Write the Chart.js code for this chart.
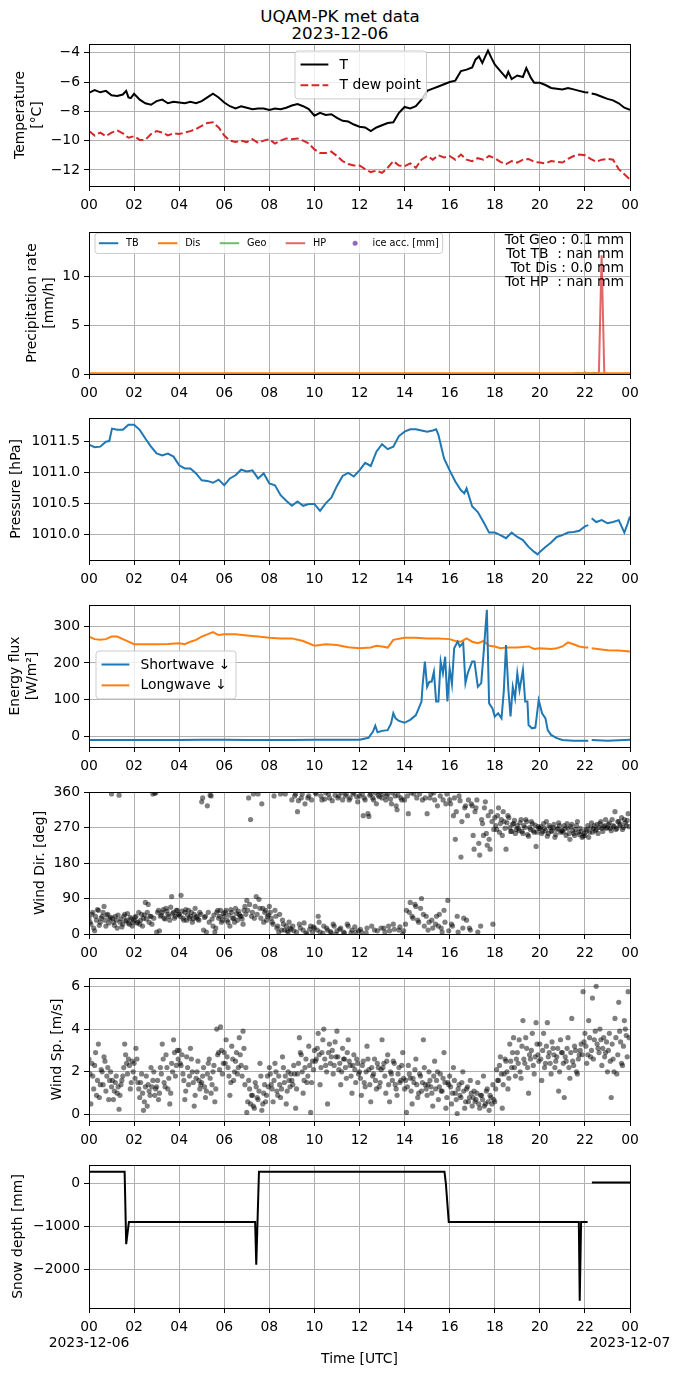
<!DOCTYPE html>
<html>
<head>
<meta charset="utf-8">
<script src="https://cdn.jsdelivr.net/npm/chart.js@4.4.1/dist/chart.umd.min.js"></script>
<style>
  body { margin: 0; background: #fff; width: 680px; height: 1377px; position: relative; overflow: hidden; font-family: "DejaVu Sans", sans-serif; }
  canvas { position: absolute; left: 0; }
  #title { position: absolute; left: 0; top: 8px; width: 680px; text-align: center; font-size: 16.7px; line-height: 17px; color: #000; }
</style>
</head>
<body>
<div id="title">UQAM-PK met data<br>2023-12-06</div>
<canvas id="c1"></canvas>
<canvas id="c2"></canvas>
<canvas id="c3"></canvas>
<canvas id="c4"></canvas>
<canvas id="c5"></canvas>
<canvas id="c6"></canvas>
<canvas id="c7"></canvas>
<script>
// x ticks, every 2 h
const hourTicks = [0, 2, 4, 6, 8, 10, 12, 14, 16, 18, 20, 22, 24];

// temperature
const tHours = [0,0.25,0.5,0.75,1, 1.25,1.5,1.65,1.75,1.85, 2,2.25,2.5,2.75,3, 3.25,3.5,3.75,4,4.25,
  4.5,4.75,5,5.25,5.5, 5.75,6,6.25,6.5,6.75, 7,7.25,7.5,7.75,8, 8.25,8.5,8.75,9,9.25,
  9.5,9.75,10,10.25,10.5, 10.75,11,11.25,11.5,11.75, 12,12.25,12.5,12.75,13, 13.25,13.5,13.75,14,14.25,
  14.5,14.75,15,15.25,15.5, 15.75,16,16.25,16.5,16.75, 17,17.15,17.3,17.45,17.55, 17.7,17.85,18,18.25,18.5,
  18.6,18.75,19,19.25,19.4, 19.6,19.75,20,20.25,20.5, 20.75,21,21.25,21.5,21.75, 22,22.15,22.22,22.3,22.5,
  22.75,23,23.25,23.5,23.75, 24];
const tVals = [-6.73,-6.55,-6.7,-6.6,-6.9, -6.95,-6.85,-6.6,-7.05,-7.1, -6.8,-7.2,-7.45,-7.55,-7.3, -7.2,-7.45,-7.35,-7.4,-7.45,
  -7.35,-7.45,-7.3,-7.05,-6.8, -7.05,-7.4,-7.65,-7.8,-7.65, -7.75,-7.85,-7.8,-7.8,-7.9, -7.8,-7.85,-7.75,-7.6,-7.5,
  -7.65,-7.85,-8.3,-8.1,-8.25, -8.2,-8.45,-8.65,-8.7,-8.9, -9.05,-9.1,-9.35,-9.1,-8.95, -8.8,-8.75,-8.1,-7.7,-7.8,
  -7.65,-7.2,-6.6,-6.45,-6.3, -6.15,-6.0,-5.9,-5.25,-5.15, -5.0,-4.45,-4.25,-4.7,-4.35, -3.85,-4.35,-4.8,-5.25,-5.7,
  -5.3,-5.8,-5.55,-5.65,-5.05, -5.7,-6.05,-6.05,-6.2,-6.4, -6.45,-6.5,-6.4,-6.5,-6.6, -6.7,-6.72,null,-6.78,-6.85,
  -7.0,-7.15,-7.25,-7.45,-7.75, -7.9];
// dew point, every 15 min
const tdVals = [-9.35,-9.65,-9.45,-9.7, -9.45,-9.3,-9.5,-9.8, -9.7,-9.95,-9.95,-9.55, -9.35,-9.45,-9.65,-9.5,
  -9.55,-9.45,-9.35,-9.2, -9.0,-8.8,-8.75,-9.1, -9.65,-10.0,-10.1,-10.0, -10.1,-9.9,-10.15,-10.0,
  -9.9,-10.2,-10.0,-9.85, -9.9,-9.85,-10.0,-10.2, -10.6,-10.85,-10.85,-10.75, -11.05,-11.4,-11.6,-11.7,
  -11.7,-11.95,-12.15,-12.05, -12.2,-11.85,-11.4,-11.7, -11.75,-11.55,-11.85,-11.3, -11.05,-11.3,-11.0,-11.15,
  -11.05,-11.3,-10.95,-11.3, -11.4,-11.2,-11.3,-11.05, -11.2,-11.45,-11.6,-11.4, -11.5,-11.3,-11.25,-11.45,
  -11.5,-11.55,-11.4,-11.45, -11.5,-11.25,-11.05,-10.95, -11.0,-11.25,-11.45,-11.3, -11.25,-11.3,-11.95,-12.3, -12.65];

// precipitation
const disHours = [0, 6, 12, 18, 24];
const disVals = [0.08, 0.08, 0.08, 0.08, 0.08];
const geoHours = [21.5, 21.7, 21.85, 22.0, 22.2, 22.4, 22.6];
const geoVals = [0.05, 0.1, 0.05, 0.15, 0.05, 0.12, 0.05];
const hpHours = [22.4, 22.62, 22.74, 22.86, 23.0];
const hpVals = [0.05, 0.05, 12.2, 0.05, 0.05];
const precipTotals = ['Tot Geo : 0.1 mm', 'Tot TB  : nan mm', 'Tot Dis : 0.0 mm', 'Tot HP  : nan mm'];

// pressure
const pHours = [0,0.25,0.5,0.75,0.9,1.02,1.25,1.5,1.75,2, 2.25,2.5,2.75,3,3.25,3.5,3.75,4,4.25,4.5,
  4.75,5,5.25,5.5,5.75,6,6.25,6.5,6.75,7, 7.25,7.5,7.75,8,8.25,8.5,8.75,9,9.25,9.5,
  9.75,10,10.25,10.5,10.75,11,11.25,11.5,11.75,12, 12.25,12.5,12.75,13,13.25,13.5,13.75,14,14.25,14.5,
  14.75,15,15.25,15.4,15.5,15.75,16,16.25,16.5,16.65, 16.75,17,17.25,17.5,17.75,18,18.25,18.5,18.75,19,
  19.25,19.5,19.75,19.9,20,20.25,20.5,20.75,21,21.25, 21.5,21.75,22,22.15,22.22,22.3,22.5,22.75,23,23.25,
  23.5,23.6,23.75,23.9,24];
const pVals = [1011.44,1011.40,1011.41,1011.49,1011.50,1011.70,1011.68,1011.68,1011.76,1011.76,
  1011.68,1011.54,1011.41,1011.30,1011.27,1011.30,1011.25,1011.11,1011.06,1011.06,
  1010.98,1010.87,1010.86,1010.83,1010.88,1010.79,1010.90,1010.95,1011.04,1011.01,
  1011.03,1010.90,1010.98,1010.82,1010.79,1010.63,1010.54,1010.46,1010.53,1010.46,
  1010.49,1010.49,1010.38,1010.50,1010.59,1010.78,1010.94,1010.99,1010.93,1011.03,
  1011.15,1011.10,1011.33,1011.45,1011.37,1011.41,1011.58,1011.65,1011.69,1011.69,
  1011.67,1011.65,1011.67,1011.69,1011.60,1011.22,1011.03,1010.85,1010.71,1010.66,
  1010.74,1010.45,1010.36,1010.20,1010.03,1010.03,1009.99,1009.94,1010.03,1009.96,
  1009.91,1009.80,1009.72,1009.68,1009.72,1009.80,1009.87,1009.96,1009.99,1010.03,
  1010.04,1010.06,1010.13,1010.15,null,1010.26,1010.20,1010.23,1010.18,1010.20,
  1010.23,1010.15,1010.03,1010.18,1010.29];

// radiation
const lwHours = [0,0.25,0.5,0.75,1,1.25,1.5,1.75,2,2.5, 3,3.5,4,4.25,4.5,4.75,5,5.25,5.5,5.75,
  6,6.5,7,7.5,8,8.5,9,9.5,10,10.5, 11,11.5,12,12.5,12.75,13,13.25,13.5,14,14.5,
  15,15.5,16,16.25,16.5,16.75,17,17.25,17.5,17.75, 18,18.25,18.5,19,19.5,19.75,20,20.5,20.75,21,
  21.25,21.5,21.75,22,22.15,22.22,22.3,23,23.5,24];
const lwVals = [272,265,263,265,272,272,265,258,251,251, 251,252,254,251,258,263,272,278,284,276,
  278,278,275,272,269,267,267,260,247,251, 249,243,240,242,247,245,242,263,269,269,
  267,267,265,260,258,267,258,254,260,247, 245,240,242,242,245,238,240,238,240,245,
  256,251,245,242,242,null,240,235,234,231];
const swHours = [0,1,2,3,4,5,6,7,8,9, 10,11,12,12.4,12.6,12.7,12.8,13,13.25,13.4,
  13.5,13.6,13.75,14,14.25,14.5,14.6,14.75,14.8,14.9, 15,15.1,15.2,15.3,15.4,15.5,15.6,15.7,15.8,15.9,
  16,16.1,16.2,16.35,16.45,16.6,16.7,16.8,17,17.1, 17.25,17.4,17.5,17.65,17.75,17.9,18,18.15,18.3,18.4,
  18.5,18.6,18.7,18.8,18.9,19,19.1,19.25,19.35,19.45, 19.5,19.65,19.8,19.95,20.1,20.25,20.35,20.5,20.75,21,
  21.5,22,22.15,22.22,22.3,23,24];
const swVals = [-10,-10,-10,-10,-10,-9,-9,-10,-10,-10, -9,-9,-9,-4,13,29,11,15,17,35,
  63,49,42,37,45,58,72,95,140,204, 135,149,149,176,95,95,204,172,217,95,
  185,142,240,258,245,255,145,172,204,204, 135,145,222,345,90,76,54,63,49,122,
  249,131,54,135,104,172,126,181,95,95, 31,22,24,99,63,49,17,4,-5,-10,
  -12,-12,-12,null,-10,-12,-9];

// wind: two interleaved samplings, one value every 5 min each (12 per hour), second set offset by 2.5 min
const windStep = 5 / 60;
const dirVals = [
  40,25,55,8,35,60,30,45,70,20,50,38,
  355,30,45,15,352,38,25,50,35,28,42,20,
  35,45,30,25,50,40,80,55,30,45,355,357,
  5,60,45,55,40,65,50,35,95,55,45,60,
  50,98,40,55,35,60,45,30,50,42,38,55,
  335,10,45,325,30,350,20,5,55,40,60,35,
  45,60,30,20,55,40,65,35,50,45,25,70,
  85,345,290,55,40,95,355,65,330,30,60,45,
  70,40,25,60,15,5,355,35,10,20,5,15,
  340,8,355,310,25,345,10,330,0,350,20,5,
  15,355,45,5,340,20,358,10,345,3,25,352,
  8,350,15,340,2,355,20,345,10,358,5,335,
  350,5,300,340,15,298,355,345,10,330,352,360,
  345,15,340,355,8,330,25,350,315,10,345,0,
  340,60,305,80,45,355,70,35,355,90,50,345,
  305,30,355,15,340,45,20,350,5,60,330,85,
  340,25,300,240,45,350,195,15,320,35,340,10,
  325,215,320,5,200,290,250,335,225,240,310,25,
  295,265,320,280,250,285,215,300,270,260,280,255,
  275,262,290,255,270,285,248,265,280,258,222,272,
  268,255,280,262,248,275,260,270,245,265,282,258,
  262,275,250,268,240,278,255,265,285,252,260,248,
  250,262,245,270,258,275,265,255,280,268,272,290,
  270,282,262,275,310,268,285,278,265,290,275,305];
const dirVals2 = [
  30,50,15,45,62,22,40,55,35,48,28,42,
  40,22,35,48,30,18,45,33,52,25,38,30,
  42,28,55,35,20,48,38,75,45,25,40,358,
  55,8,48,62,38,58,45,68,52,40,60,50,
  45,58,35,62,48,40,55,38,65,45,35,50,
  345,42,5,55,352,38,48,15,60,45,30,52,
  55,35,48,62,40,30,52,58,45,38,60,50,
  60,75,45,355,70,50,88,40,65,55,35,48,
  55,30,350,45,20,50,10,25,355,8,30,12,
  20,350,5,338,15,355,28,3,345,12,340,18,
  358,10,30,350,2,342,15,355,6,338,20,0,
  345,12,358,5,350,25,340,3,355,18,348,8,
  12,355,345,3,305,352,20,340,358,8,348,15,
  355,5,350,20,342,358,12,325,352,18,340,8,
  25,350,55,358,40,75,345,30,65,340,20,45,
  10,345,35,358,25,325,50,15,340,30,355,8,
  330,20,345,310,5,338,285,40,325,300,15,330,
  250,310,340,230,20,280,320,255,300,215,285,265,
  275,300,258,290,310,268,282,295,260,278,288,265,
  268,282,260,275,290,252,270,285,262,276,258,268,
  272,260,268,285,255,270,262,278,252,268,275,262,
  258,268,280,255,272,262,250,275,258,268,245,255,
  265,275,258,282,268,262,278,270,285,260,275,268,
  278,268,290,272,265,285,275,295,270,282,288,272];
const spdVals = [
  2.6,0.5,1.8,2.3,0.9,3.3,1.4,2.0,2.7,1.1,2.2,1.6,
  1.3,0.7,1.5,1.0,0.25,1.4,1.8,3.3,2.4,2.6,1.2,2.5,
  2.4,3.1,1.5,0.8,1.9,0.2,1.3,0.4,1.1,2.2,1.6,0.9,
  1.3,0.7,2.2,3.3,1.5,2.8,1.2,0.5,2.4,3.5,1.8,3.0,
  3.0,2.3,1.9,0.7,2.7,1.4,3.1,2.0,0.4,1.7,2.5,1.2,
  1.5,2.2,0.8,1.9,2.6,1.0,2.0,0.6,4.0,2.9,4.1,1.9,
  2.9,3.5,2.2,0.9,3.2,1.6,2.5,1.9,3.6,2.3,3.9,1.4,
  0.1,1.6,0.5,0.9,0.3,1.3,0.7,2.4,0.2,1.0,0.6,1.8,
  2.2,1.4,0.6,2.4,1.1,1.8,0.8,2.7,1.5,0.5,2.0,1.3,
  1.6,2.3,0.3,1.9,3.6,2.8,1.0,2.2,1.5,3.2,0.1,2.5,
  3.0,2.6,3.8,1.4,2.9,4.0,2.3,0.5,3.3,2.7,1.9,3.4,
  3.9,2.1,1.4,3.1,2.6,1.7,3.5,2.3,1.0,2.8,1.5,2.4,
  2.0,0.9,2.5,1.3,3.2,2.1,0.6,1.8,2.6,1.2,2.2,1.5,
  3.5,2.4,1.0,2.8,0.6,1.9,2.5,1.4,0.9,2.2,1.6,2.9,
  1.2,0.1,2.3,1.7,0.5,1.5,2.6,0.8,1.9,1.1,3.5,1.4,
  0.9,2.0,1.3,0.4,2.5,1.6,0.7,1.9,1.1,2.9,0.3,1.5,
  1.8,0.5,2.2,1.0,0.05,1.4,0.8,2.0,0.3,1.2,0.6,1.6,
  0.4,1.1,0.7,1.5,0.3,0.9,1.8,0.5,1.2,0.2,0.8,1.4,
  0.6,2.1,1.6,2.7,0.3,1.9,2.5,1.2,3.3,2.2,3.6,1.8,
  2.9,3.5,1.7,4.4,2.4,3.1,1.0,2.6,3.8,1.9,4.3,2.8,
  3.3,1.6,3.8,2.4,4.3,2.9,1.9,3.1,2.2,2.7,1.1,3.5,
  2.9,0.8,2.5,3.6,1.7,4.5,2.3,3.0,1.9,2.8,3.3,5.75,
  3.8,2.4,4.4,2.7,5.45,3.5,6.0,3.1,4.0,2.3,3.6,2.9,
  2.0,3.8,0.8,2.6,4.5,1.9,5.25,3.4,2.3,4.4,3.7,5.75];
const spdVals2 = [
  1.9,2.4,1.2,2.9,1.6,0.8,2.1,1.4,2.5,1.8,0.7,2.0,
  1.6,1.1,1.8,1.3,0.9,1.6,2.2,2.8,1.9,2.3,1.5,2.0,
  1.7,2.6,1.2,1.5,1.0,0.6,1.8,1.4,0.9,1.3,2.0,1.2,
  1.6,1.0,1.9,2.6,1.3,2.2,1.7,1.0,2.0,2.9,2.3,2.6,
  2.4,2.8,1.6,1.1,2.2,1.8,2.6,1.5,0.9,2.0,1.6,1.4,
  1.8,1.3,1.1,2.4,1.7,1.4,2.3,1.2,2.8,2.1,3.0,2.4,
  2.4,2.7,1.8,1.5,2.6,2.0,2.9,2.2,2.8,1.8,3.1,2.2,
  0.6,1.2,0.9,0.4,1.5,0.8,1.1,1.8,0.5,1.4,0.9,1.3,
  1.9,1.2,1.6,2.0,0.9,1.4,1.2,2.2,1.8,1.1,1.6,1.9,
  1.4,1.9,1.2,2.4,2.9,2.0,1.6,2.6,1.8,2.3,1.5,2.1,
  2.5,3.1,2.8,2.2,3.5,2.6,2.0,2.9,2.4,3.0,2.3,2.7,
  2.7,2.4,2.0,2.6,2.2,2.9,2.5,1.8,2.3,2.1,2.6,1.9,
  1.7,2.3,1.5,2.0,2.6,1.4,2.2,1.9,1.6,2.4,1.3,2.1,
  2.2,1.8,2.5,1.4,2.0,1.6,2.4,1.2,1.9,1.5,2.3,1.7,
  1.6,1.3,1.9,1.1,1.7,2.1,1.4,1.0,1.8,1.5,2.2,1.2,
  1.4,1.6,1.0,1.8,1.2,2.0,1.3,1.1,1.7,1.5,0.8,1.4,
  1.3,1.0,1.6,0.7,1.2,0.9,1.5,1.1,0.6,1.3,0.8,1.0,
  0.8,0.6,1.0,0.5,0.9,0.7,0.4,1.1,0.6,0.9,0.5,0.7,
  1.2,1.6,2.3,1.9,1.4,2.6,2.0,1.7,2.5,2.9,2.2,2.6,
  2.4,2.0,3.2,2.6,3.6,2.2,2.8,3.0,2.3,2.7,3.3,2.5,
  2.6,3.0,2.2,3.2,2.7,2.4,3.4,2.8,2.5,3.1,2.0,2.9,
  2.4,2.7,3.1,2.2,2.9,2.5,3.2,2.0,2.6,3.0,2.8,3.4,
  3.2,2.8,3.6,3.0,2.6,3.9,3.3,2.9,3.5,3.1,2.7,3.4,
  3.0,2.5,3.3,2.0,3.6,2.8,3.9,2.4,3.2,4.0,2.7,3.6];

// snow depth
const snowHours = [0,1.58,1.65,1.77,7.37,7.42,7.54,15.77,15.83,15.96,21.73,21.77,21.83,22.12,22.22,22.31,24];
const snowVals = [270,270,-1420,-900,-900,-1900,270,270,0,-900,-900,-2740,-900,-900,null,20,20];

Chart.defaults.font.family = '"DejaVu Sans", sans-serif';
Chart.defaults.font.size = 13.9;
Chart.defaults.color = '#000';

const FONT = '"DejaVu Sans", sans-serif';
const pts = (xs, ys) => xs.map((x, i) => ({ x: x, y: ys[i] }));
const stepPts = (ys, offset) => ys.map((y, i) => ({ x: (i + offset) * windStep, y: y }));
const minus = v => String(v).replace('-', '\u2212');

// black box around the axes
const frame = {
  id: 'frame',
  afterDraw(chart) {
    const a = chart.chartArea, ctx = chart.ctx;
    const l = Math.round(a.left), t = Math.round(a.top), r = Math.round(a.right), b = Math.round(a.bottom);
    ctx.save();
    ctx.strokeStyle = '#000';
    ctx.lineWidth = 1;
    ctx.strokeRect(l + 0.5, t + 0.5, r - l, b - t);
    ctx.restore();
  }
};

function legendBox(id, spec) {
  return {
    id: id,
    afterDatasetsDraw(chart) {
      const a = chart.chartArea, ctx = chart.ctx, fs = spec.size;
      const pad = 0.4 * fs, hl = 2 * fs, htp = 0.8 * fs, cs = 2 * fs, ls = 0.5 * fs, rowH = fs;
      ctx.save();
      ctx.font = fs + 'px ' + FONT;
      const widths = spec.items.map(it => hl + htp + ctx.measureText(it.label).width);
      const w = spec.horizontal
        ? widths.reduce((s, v) => s + v, 0) + cs * (widths.length - 1) + 2 * pad
        : Math.max.apply(null, widths) + 2 * pad;
      const h = spec.horizontal ? rowH + 2 * pad + 3 : spec.items.length * rowH + (spec.items.length - 1) * ls + 2 * pad + 2;
      const x0 = a.left + spec.dx, y0 = a.top + spec.dy, rr = 3;
      ctx.beginPath();
      ctx.moveTo(x0 + rr, y0);
      ctx.arcTo(x0 + w, y0, x0 + w, y0 + h, rr);
      ctx.arcTo(x0 + w, y0 + h, x0, y0 + h, rr);
      ctx.arcTo(x0, y0 + h, x0, y0, rr);
      ctx.arcTo(x0, y0, x0 + w, y0, rr);
      ctx.closePath();
      ctx.fillStyle = 'rgba(255,255,255,0.8)';
      ctx.fill();
      ctx.strokeStyle = '#cccccc';
      ctx.lineWidth = 1;
      ctx.stroke();
      let cx = x0 + pad, cy = y0 + h / 2 - (spec.horizontal ? 0 : (spec.items.length - 1) * (rowH + ls) / 2);
      ctx.textBaseline = 'middle';
      ctx.textAlign = 'left';
      spec.items.forEach((it, i) => {
        if (it.dot) {
          ctx.fillStyle = it.color;
          ctx.beginPath();
          ctx.arc(cx + hl / 2, cy, 2.5, 0, Math.PI * 2);
          ctx.fill();
        } else {
          ctx.strokeStyle = it.color;
          ctx.lineWidth = it.width || 2;
          ctx.setLineDash(it.dash || []);
          ctx.beginPath();
          ctx.moveTo(cx, cy);
          ctx.lineTo(cx + hl, cy);
          ctx.stroke();
          ctx.setLineDash([]);
        }
        ctx.fillStyle = '#000';
        ctx.fillText(it.label, cx + hl + htp, cy + 0.5);
        if (spec.horizontal) cx += widths[i] + cs; else cy += rowH + ls;
      });
      ctx.restore();
    }
  };
}

const totalsText = {
  id: 'totals',
  afterDatasetsDraw(chart) {
    const a = chart.chartArea, ctx = chart.ctx;
    ctx.save();
    ctx.font = '13.9px ' + FONT;
    ctx.fillStyle = '#000';
    ctx.textAlign = 'right';
    ctx.textBaseline = 'middle';
    precipTotals.forEach((s, i) => ctx.fillText(s, a.right - 6, a.top + 8 + i * 14));
    ctx.restore();
  }
};

function makePanel(id, top, bottom, cfg) {
  const padTop = cfg.padTop || 22;
  const below = cfg.below || 25;
  const cv = document.getElementById(id);
  cv.width = 680;
  cv.height = padTop + (bottom - top) + below;
  cv.style.top = (top - padTop) + 'px';
  const xTicks = cfg.xTicks || (v => String(v % 24).padStart(2, '0'));
  return new Chart(cv, {
    type: 'line',
    data: { datasets: cfg.datasets },
    options: {
      responsive: false,
      animation: false,
      events: [],
      layout: { padding: { top: padTop, right: 50, left: 0, bottom: 0 } },
      plugins: { legend: { display: false }, tooltip: { enabled: false } },
      elements: { point: { radius: 0 } },
      scales: {
        x: {
          type: 'linear', min: 0, max: 24,
          afterBuildTicks: s => { s.ticks = hourTicks.map(v => ({ value: v })); },
          afterFit: s => { s.height = below; },
          ticks: { callback: xTicks, maxRotation: 0, autoSkip: false, padding: 6, font: { size: 13.9, lineHeight: '16px' } },
          grid: { color: '#b0b0b0', lineWidth: 1, tickColor: '#000', tickLength: 5 },
          border: { color: '#000', width: 1 },
          title: cfg.xTitle ? { display: true, text: cfg.xTitle, font: { size: 13.9, lineHeight: '17px' }, padding: { top: 0, bottom: 9.5 } } : { display: false }
        },
        y: {
          type: 'linear', min: cfg.yMin, max: cfg.yMax,
          afterBuildTicks: s => { s.ticks = cfg.yTicks.map(v => ({ value: v })); },
          afterFit: s => { s.width = 89; },
          ticks: { callback: cfg.yFmt || minus, padding: 4, font: { size: 13.9 } },
          grid: { color: '#b0b0b0', lineWidth: 1, tickColor: '#000', tickLength: 5 },
          border: { color: '#000', width: 1 },
          title: { display: true, text: cfg.yTitle, font: { size: 13.9, lineHeight: '17px' }, padding: { top: cfg.yTitlePad, bottom: 0 } }
        }
      }
    },
    plugins: [frame].concat(cfg.plugins || [])
  });
}

const lineDs = (data, color, extra) => Object.assign({
  data: data, borderColor: color, backgroundColor: color, borderWidth: 2,
  pointRadius: 0, spanGaps: false, tension: 0, fill: false
}, extra || {});
const dotDs = (data) => ({
  data: data, showLine: false, pointRadius: 2.6, pointBorderWidth: 0,
  pointBackgroundColor: 'rgba(0,0,0,0.5)', borderColor: 'rgba(0,0,0,0)'
});

// 1 temperature
makePanel('c1', 44, 186, {
  padTop: 44,
  yMin: -13.1, yMax: -3.4, yTicks: [-12, -10, -8, -6, -4],
  yTitle: ['Temperature', '[°C]'], yTitlePad: 11.5,
  datasets: [
    lineDs(pts(tHours, tVals), '#000000'),
    lineDs(tdVals.map((y, i) => ({ x: i / 4, y: y })), '#d62728', { borderDash: [7.7, 3.3] })
  ],
  plugins: [legendBox('legT', { size: 13.9, dx: 206, dy: 7, items: [
    { label: 'T', color: '#000000' },
    { label: 'T dew point', color: '#d62728', dash: [7.7, 3.3] }
  ] })]
});

// 2 precipitation
makePanel('c2', 232, 374, {
  yMin: 0, yMax: 14.6, yTicks: [0, 5, 10],
  yTitle: ['Precipitation rate', '[mm/h]'], yTitlePad: 24,
  datasets: [
    lineDs(pts(disHours, disVals), '#ff7f0e'),
    lineDs(pts(geoHours, geoVals), 'rgba(44,160,44,0.7)'),
    lineDs(pts(hpHours, hpVals), 'rgba(214,39,40,0.7)')
  ],
  plugins: [totalsText, legendBox('legP', { size: 9.7, horizontal: true, dx: 6, dy: 1, items: [
    { label: 'TB', color: '#1f77b4' },
    { label: 'Dis', color: '#ff7f0e' },
    { label: 'Geo', color: 'rgba(44,160,44,0.7)' },
    { label: 'HP', color: 'rgba(214,39,40,0.7)' },
    { label: 'ice acc. [mm]', color: '#9467bd', dot: true }
  ] })]
});

// 3 pressure
makePanel('c3', 418, 560, {
  yMin: 1009.59, yMax: 1011.87, yTicks: [1010, 1010.5, 1011, 1011.5],
  yFmt: v => v.toFixed(1),
  yTitle: 'Pressure [hPa]', yTitlePad: 7.5,
  datasets: [lineDs(pts(pHours, pVals), '#1f77b4')]
});

// 4 radiation
makePanel('c4', 605, 747, {
  yMin: -29, yMax: 358, yTicks: [0, 100, 200, 300],
  yTitle: ['Energy flux', '[W/m²]'], yTitlePad: 7,
  datasets: [
    lineDs(pts(swHours, swVals), '#1f77b4'),
    lineDs(pts(lwHours, lwVals), '#ff7f0e')
  ],
  plugins: [legendBox('legE', { size: 13.9, dx: 7, dy: 46, items: [
    { label: 'Shortwave \u2193', color: '#1f77b4' },
    { label: 'Longwave \u2193', color: '#ff7f0e' }
  ] })]
});

// 5 wind direction
makePanel('c5', 792, 934, {
  yMin: 0, yMax: 360, yTicks: [0, 90, 180, 270, 360],
  yTitle: 'Wind Dir. [deg]', yTitlePad: 31.5,
  datasets: [dotDs(stepPts(dirVals, 0)), dotDs(stepPts(dirVals2, 0.5))]
});

// 6 wind speed
makePanel('c6', 978, 1121, {
  yMin: -0.3, yMax: 6.39, yTicks: [0, 2, 4, 6],
  yTitle: 'Wind Sp. [m/s]', yTitlePad: 48.5,
  datasets: [dotDs(stepPts(spdVals, 0)), dotDs(stepPts(spdVals2, 0.5))]
});

// 7 snow depth
makePanel('c7', 1165, 1308, {
  below: 69,
  yMin: -2907, yMax: 426, yTicks: [-2000, -1000, 0],
  yTitle: 'Snow depth [mm]', yTitlePad: 9.5,
  xTitle: 'Time [UTC]',
  xTicks: v => v === 0 ? ['00', '2023-12-06'] : v === 24 ? ['00', '2023-12-07'] : String(v).padStart(2, '0'),
  datasets: [lineDs(pts(snowHours, snowVals), '#000000')]
});
</script>
</body>
</html>
